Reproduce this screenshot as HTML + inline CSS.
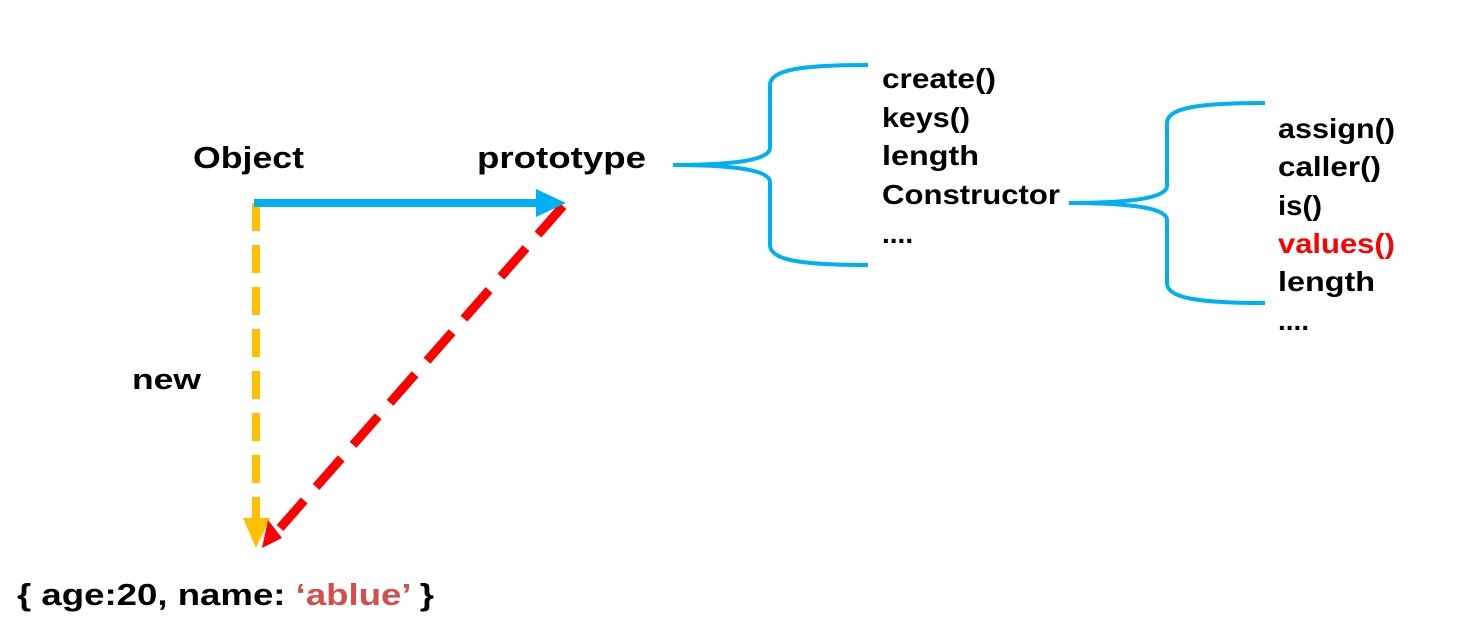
<!DOCTYPE html>
<html><head><meta charset="utf-8"><style>html,body{margin:0;padding:0;background:#fff}svg{display:block}text{font-family:"Liberation Sans",sans-serif;font-weight:bold}</style></head>
<body>
<svg width="1480" height="634" viewBox="0 0 1480 634" xmlns="http://www.w3.org/2000/svg">
<rect width="1480" height="634" fill="#fff"/>
<!-- yellow dashed -->
<line x1="256" y1="203" x2="256" y2="522" stroke="#FFC000" stroke-width="8" stroke-dasharray="28,14"/>
<polygon points="243,518 270,518 256,548" fill="#FFC000"/>
<!-- red dashed -->
<line x1="563" y1="206" x2="280" y2="528" stroke="#FF0000" stroke-width="9" stroke-dasharray="38,18"/>
<polygon points="262,548 282,538 268,520" fill="#FF0000"/>
<!-- blue arrow -->
<line x1="254" y1="203" x2="540" y2="203" stroke="#00B0F0" stroke-width="8"/>
<polygon points="536,189 536,217 566,203" fill="#00B0F0"/>
<!-- braces -->
<path d="M868,65 C800,65 770,70 770,85 L770,148 C770,162 720,165 673,165 C720,165 770,168 770,182 L770,245 C770,260 800,265 868,265" fill="none" stroke="#00B0F0" stroke-width="4"/>
<path d="M1265,103 C1197,103 1167,108 1167,123 L1167,186 C1167,200 1117,203 1069,203 C1117,203 1167,206 1167,220 L1167,283 C1167,298 1197,303 1265,303" fill="none" stroke="#00B0F0" stroke-width="4"/>
<!-- labels -->
<text x="193" y="168" font-size="31" textLength="111" lengthAdjust="spacingAndGlyphs">Object</text>
<text x="477" y="168" font-size="31" textLength="169" lengthAdjust="spacingAndGlyphs">prototype</text>
<text x="132" y="389" font-size="29" textLength="69" lengthAdjust="spacingAndGlyphs">new</text>
<text x="17" y="605" font-size="31" textLength="417" lengthAdjust="spacingAndGlyphs">{ age:20, name: <tspan fill="#D05050">‘ablue’</tspan> }</text>
<g font-size="28">
<text x="882" y="88" textLength="114" lengthAdjust="spacingAndGlyphs">create()</text>
<text x="882" y="127" textLength="88" lengthAdjust="spacingAndGlyphs">keys()</text>
<text x="882" y="165" textLength="97" lengthAdjust="spacingAndGlyphs">length</text>
<text x="882" y="204" textLength="178" lengthAdjust="spacingAndGlyphs">Constructor</text>
<text x="882" y="243">....</text>
<text x="1278" y="138" textLength="117" lengthAdjust="spacingAndGlyphs">assign()</text>
<text x="1278" y="176" textLength="103" lengthAdjust="spacingAndGlyphs">caller()</text>
<text x="1278" y="215" textLength="44" lengthAdjust="spacingAndGlyphs">is()</text>
<text x="1278" y="253" fill="#FF0000" textLength="117" lengthAdjust="spacingAndGlyphs">values()</text>
<text x="1278" y="291" textLength="97" lengthAdjust="spacingAndGlyphs">length</text>
<text x="1278" y="330">....</text>
</g>
</svg>
</body></html>
